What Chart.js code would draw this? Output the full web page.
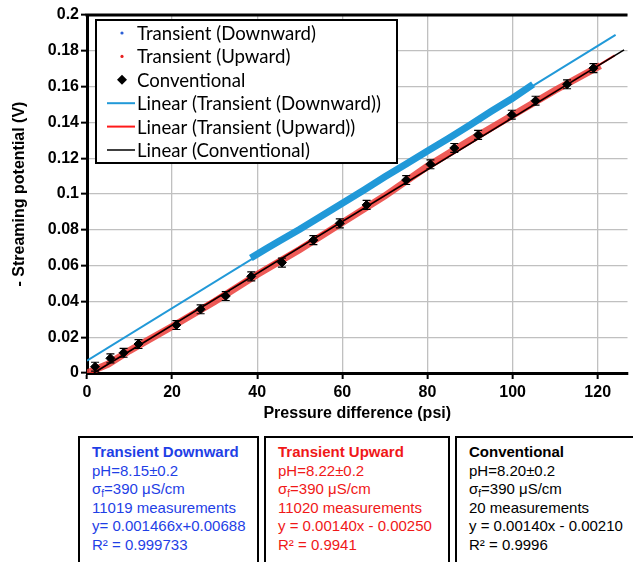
<!DOCTYPE html>
<html>
<head>
<meta charset="utf-8">
<script src="https://cdn.jsdelivr.net/npm/chart.js@4"></script>
<style>
  body { margin: 0; background: #fff; width: 633px; height: 562px; overflow: hidden; position: relative; }
  #wrap { position: absolute; left: 0; top: 0; width: 633px; height: 425px; }
  .box { position: absolute; top: 436px; height: 140px; border: 2px solid #000; box-sizing: border-box;
         font-family: "Liberation Sans", Arial, sans-serif; font-size: 15px; line-height: 18.6px; padding: 5px 0 0 12px; }
  .box b { font-weight: bold; }
  .box sub { font-size: 10px; line-height: 0; vertical-align: -3px; }
  .blue { color: #1f3fe6; }
  .red { color: #f01818; }
  .black { color: #000; }
</style>
</head>
<body>
<div id="wrap"><canvas id="myChart" width="633" height="425"></canvas></div>

<div class="box blue" style="left:78px; width:181px;">
  <b>Transient Downward</b><br>pH=8.15&plusmn;0.2<br>&sigma;<sub>f</sub>=390 &mu;S/cm<br>11019 measurements<br>y= 0.001466x+0.00688<br>R&sup2; = 0.999733
</div>
<div class="box red" style="left:264px; width:186px;">
  <b>Transient Upward</b><br>pH=8.22&plusmn;0.2<br>&sigma;<sub>f</sub>=390 &mu;S/cm<br>11020 measurements<br>y = 0.00140x - 0.00250<br>R&sup2; = 0.9941
</div>
<div class="box black" style="left:455px; width:190px;">
  <b>Conventional</b><br>pH=8.20&plusmn;0.2<br>&sigma;<sub>f</sub>=390 &mu;S/cm<br>20 measurements<br>y = 0.00140x - 0.00210<br>R&sup2; = 0.9996
</div>

<script>
// transient downward band (psi, V)
var pressDown = [38.5, 42, 45, 50, 55, 60, 65, 70, 75, 80, 85, 90, 95, 100, 104.8];
var potDown = [0.0642, 0.0693, 0.0735, 0.0803, 0.0876, 0.0948, 0.1021, 0.1096, 0.1168, 0.1240, 0.1312, 0.1386, 0.1462, 0.1535, 0.1612];

// transient upward band
var pressUp = [0, 5, 10, 20, 30, 40, 50, 60, 70, 80, 90, 100, 110, 120.6];
var potUp = [0.0000, 0.0050, 0.0125, 0.0260, 0.0400, 0.0550, 0.0690, 0.0840, 0.0990, 0.1155, 0.1300, 0.1440, 0.1580, 0.1717];

// conventional measurements
var pressConv = [1.9, 5.5, 8.6, 12.1, 21.0, 26.7, 32.6, 38.6, 45.8, 53.2, 59.4, 65.7, 75.0, 80.7, 86.3, 91.9, 99.8, 105.4, 112.8, 119.0];
var potConv = [0.0035, 0.0082, 0.0113, 0.0162, 0.0268, 0.0356, 0.0430, 0.0540, 0.0617, 0.0742, 0.0836, 0.0939, 0.1078, 0.1166, 0.1257, 0.1330, 0.1443, 0.1521, 0.1613, 0.1703];
var errConv = [0.0025, 0.0025, 0.0025, 0.0025, 0.0025, 0.0025, 0.0025, 0.0025, 0.0025, 0.0025, 0.0025, 0.0025, 0.0025, 0.0025, 0.0025, 0.0025, 0.0025, 0.0025, 0.0025, 0.0025];

// trend line end points
var trendDownX = [0, 124.2], trendDownY = [0.0069, 0.1889];
var trendUpX = [0, 124], trendUpY = [-0.0021, 0.1775];
var trendConvX = [1.6, 126.2], trendConvY = [0, 0.1805];

var xTicks = [0, 20, 40, 60, 80, 100, 120];

function pts(xs, ys) {
    return xs.map((x, i) => ({ x: x, y: ys[i] }));
}

var BLUE = '#2199d8';
var RED = 'rgba(235,62,58,0.85)';

// error bars, top border and in-plot legend
var extras = {
    id: 'extras',
    afterDatasetsDraw(chart) {
        var ctx = chart.ctx, xs = chart.scales.x, ys = chart.scales.y;
        ctx.save();
        ctx.strokeStyle = '#000';
        ctx.lineWidth = 1.2;
        pressConv.forEach((p, i) => {
            var px = xs.getPixelForValue(p);
            var t = ys.getPixelForValue(potConv[i] + errConv[i]);
            var b = ys.getPixelForValue(potConv[i] - errConv[i]);
            ctx.beginPath();
            ctx.moveTo(px, t); ctx.lineTo(px, b);
            ctx.moveTo(px - 4, t); ctx.lineTo(px + 4, t);
            ctx.moveTo(px - 4, b); ctx.lineTo(px + 4, b);
            ctx.stroke();
        });
        // top border of plot
        var a = chart.chartArea;
        ctx.lineWidth = 3;
        ctx.beginPath();
        ctx.moveTo(a.left - 1.5, a.top); ctx.lineTo(a.right, a.top);
        ctx.stroke();
        ctx.restore();
    },
    afterDraw(chart) {
        var ctx = chart.ctx;
        ctx.save();
        var lx = 96, ly = 20, lw = 301, lh = 143;
        ctx.fillStyle = '#fff';
        ctx.fillRect(lx, ly, lw, lh);
        ctx.strokeStyle = '#000';
        ctx.lineWidth = 2;
        ctx.strokeRect(lx, ly, lw, lh);
        ctx.font = '18.6px Lato, "Open Sans", sans-serif';
        ctx.textBaseline = 'middle';
        var items = chart.data.datasets.map(d => d);
        items.sort((p, q) => p.legendIdx - q.legendIdx);
        items.forEach((d, i) => {
            var cy = 33 + i * 23.4;
            if (d.legendKind === 'dot') {
                ctx.fillStyle = d.legendColor;
                ctx.beginPath(); ctx.arc(122, cy, 1.6, 0, Math.PI * 2); ctx.fill();
            } else if (d.legendKind === 'diamond') {
                ctx.fillStyle = '#000';
                ctx.beginPath();
                ctx.moveTo(122, cy - 5); ctx.lineTo(127, cy); ctx.lineTo(122, cy + 5); ctx.lineTo(117, cy);
                ctx.closePath(); ctx.fill();
            } else {
                ctx.strokeStyle = d.borderColor;
                ctx.lineWidth = d.borderWidth;
                ctx.beginPath(); ctx.moveTo(107, cy); ctx.lineTo(135, cy); ctx.stroke();
            }
            ctx.fillStyle = '#000';
            ctx.fillText(d.label, 137, cy + 1);
        });
        ctx.restore();
    }
};

var ctx = document.getElementById('myChart').getContext('2d');
var myChart = new Chart(ctx, {
    type: 'scatter',
    data: {
        datasets: [{
            label: 'Transient (Downward)',
            data: pts(pressDown, potDown),
            showLine: true,
            borderColor: BLUE,
            borderWidth: 7,
            pointRadius: 0,
            order: 5,
            legendIdx: 0, legendKind: 'dot', legendColor: '#2a5fd6'
        }, {
            label: 'Transient (Upward)',
            data: pts(pressUp, potUp),
            showLine: true,
            borderColor: RED,
            borderWidth: 7,
            pointRadius: 0,
            order: 6,
            legendIdx: 1, legendKind: 'dot', legendColor: '#e82020'
        }, {
            label: 'Conventional',
            data: pts(pressConv, potConv),
            backgroundColor: '#000',
            borderColor: '#000',
            pointStyle: 'rectRot',
            pointRadius: 4.5,
            order: 0,
            legendIdx: 2, legendKind: 'diamond'
        }, {
            label: 'Linear (Transient (Downward))',
            data: pts(trendDownX, trendDownY),
            showLine: true,
            borderColor: BLUE,
            borderWidth: 2,
            pointRadius: 0,
            order: 4,
            legendIdx: 3
        }, {
            label: 'Linear (Transient (Upward))',
            data: pts(trendUpX, trendUpY),
            showLine: true,
            borderColor: '#ff1a1a',
            borderWidth: 2,
            pointRadius: 0,
            order: 2,
            legendIdx: 4
        }, {
            label: 'Linear (Conventional)',
            data: pts(trendConvX, trendConvY),
            showLine: true,
            borderColor: '#000',
            borderWidth: 1.5,
            pointRadius: 0,
            order: 1,
            legendIdx: 5
        }]
    },
    options: {
        responsive: false,
        animation: false,
        layout: { padding: { top: 15, right: 0, left: 0, bottom: 0 } },
        plugins: { legend: { display: false }, tooltip: { enabled: false } },
        scales: {
            x: {
                type: 'linear',
                min: 0, max: 127,
                afterFit: s => { s.height = 52; },
                afterBuildTicks: s => { s.ticks = xTicks.map(v => ({ value: v })); },
                ticks: { color: '#000', padding: 4, font: { family: 'Liberation Sans', size: 16, weight: 'bold' } },
                grid: { color: '#c0c0c0', lineWidth: 1.3, tickLength: 6, tickColor: '#000', tickWidth: 2 },
                border: { color: '#000', width: 3 },
                title: { display: true, text: 'Pressure difference (psi)', color: '#000', padding: { top: 2, bottom: 2 },
                         font: { family: 'Liberation Sans', size: 16, weight: 'bold' } }
            },
            y: {
                min: 0, max: 0.2,
                afterFit: s => { s.width = 87; },
                ticks: { stepSize: 0.02, color: '#000', padding: 2,
                         callback: v => String(+v.toFixed(2)),
                         font: { family: 'Liberation Sans', size: 16, weight: 'bold' } },
                grid: { color: '#c0c0c0', lineWidth: 1.3, tickLength: 6, tickColor: '#000', tickWidth: 2 },
                border: { color: '#000', width: 3 },
                title: { display: true, text: '- Streaming potential (V)', color: '#000', padding: { top: 10, bottom: 0 },
                         font: { family: 'Liberation Sans', size: 16, weight: 'bold' } }
            }
        }
    },
    plugins: [extras]
});
</script>
</body>
</html>
